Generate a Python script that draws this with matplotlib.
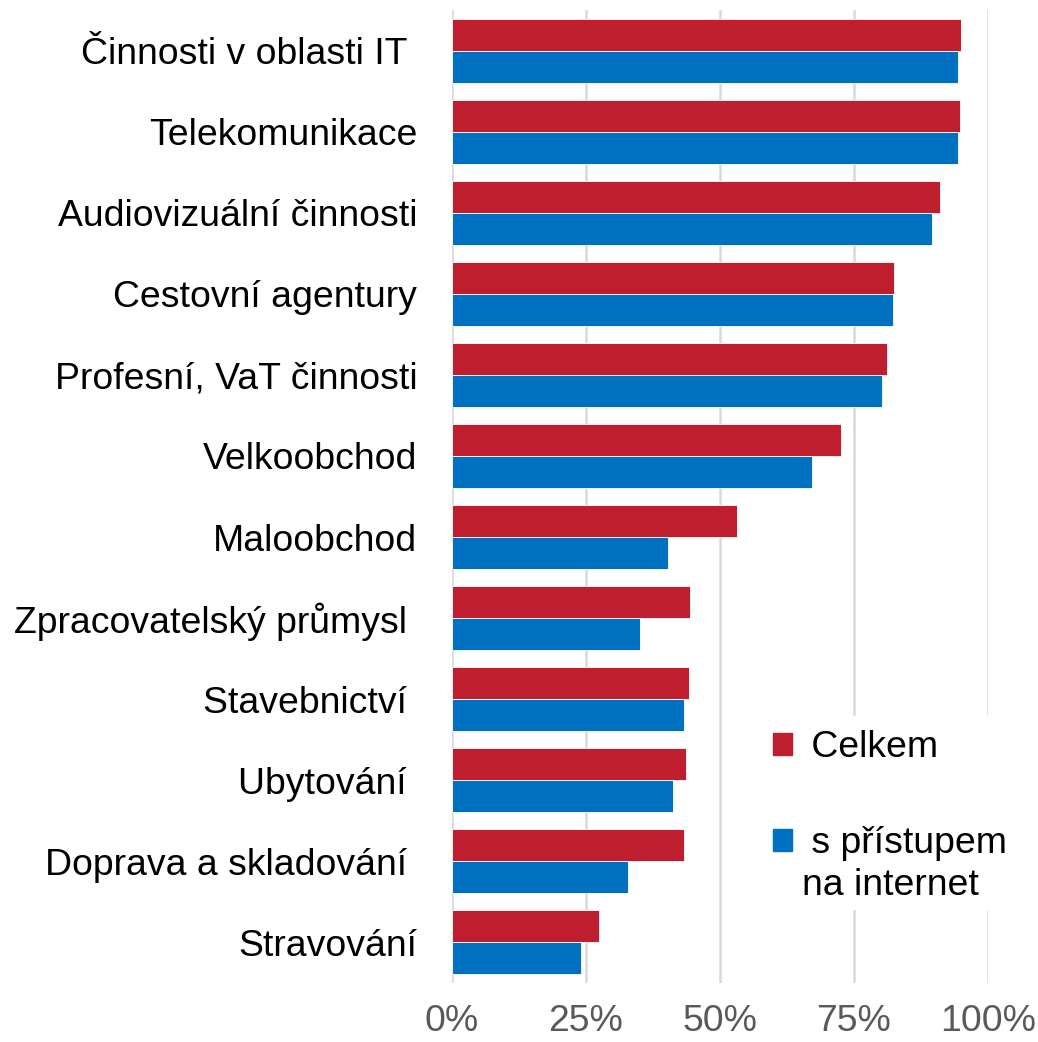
import matplotlib.pyplot as plt
from matplotlib.patches import Patch, Rectangle
import numpy as np

plt.rcParams['font.family'] = ['Liberation Sans', 'DejaVu Sans']

categories = ["Činnosti v oblasti IT ", "Telekomunikace", "Audiovizuální činnosti",
              "Cestovní agentury", "Profesní, VaT činnosti", "Velkoobchod",
              "Maloobchod", "Zpracovatelský průmysl ", "Stavebnictví ",
              "Ubytování ", "Doprava a skladování ", "Stravování"]
celkem = [0.950, 0.948, 0.910, 0.825, 0.812, 0.726, 0.532, 0.444, 0.442, 0.437, 0.433, 0.274]
internet = [0.944, 0.944, 0.896, 0.823, 0.802, 0.672, 0.403, 0.351, 0.433, 0.412, 0.328, 0.241]
xticks = [0, 0.25, 0.5, 0.75, 1.0]
xtick_labels = ["0%", "25%", "50%", "75%", "100%"]

red = "#BE1E2D"
blue = "#0070C0"
fs = 26.9

fig = plt.figure(figsize=(10.38, 10.42), dpi=100)
ax = fig.add_axes([452 / 1038, 1 - 983 / 1042, 536 / 1038, 973 / 1042])

y = np.arange(len(categories))
h = 0.395
ax.barh(y - h / 2, celkem, height=h, color=red, edgecolor="white", linewidth=0.6, zorder=3)
ax.barh(y + h / 2, internet, height=h, color=blue, edgecolor="white", linewidth=0.6, zorder=3)

ax.set_ylim(len(categories) - 0.5, -0.5)
ax.set_xlim(0, 1.0)
ax.set_yticks(y)
ax.set_yticklabels(categories, fontsize=fs, color="black")
ax.set_xticks(xticks)
ax.set_xticklabels(xtick_labels, fontsize=fs, color="#595959")
ax.tick_params(axis="both", length=0)
ax.tick_params(axis="y", pad=25)
ax.tick_params(axis="x", pad=15)
for s in ax.spines.values():
    s.set_visible(False)
ax.grid(axis="x", color="#D9D9D9", linewidth=1.8, zorder=0)
ax.set_axisbelow(True)

# white box behind the legend hides the gridlines
ax.add_patch(Rectangle((722 / 1038, 1 - 910 / 1042), 316 / 1038, 194 / 1042,
                       transform=fig.transFigure, facecolor="white", edgecolor="none",
                       clip_on=False, zorder=2))

handles = [Patch(color=red), Patch(color=blue)]
leg = fig.legend(handles, [" Celkem", " s přístupem"],
                 loc="upper left", bbox_to_anchor=(773 / 1038, 1 - 730 / 1042),
                 frameon=False, fontsize=fs, handlelength=0.52, handleheight=0.52,
                 handletextpad=0.22, labelspacing=1.64, borderpad=0, borderaxespad=0)
fig.text(802 / 1038, 1 - 895 / 1042, "na internet", fontsize=fs, va="baseline", ha="left")

fig.savefig("out.png", dpi=100)
